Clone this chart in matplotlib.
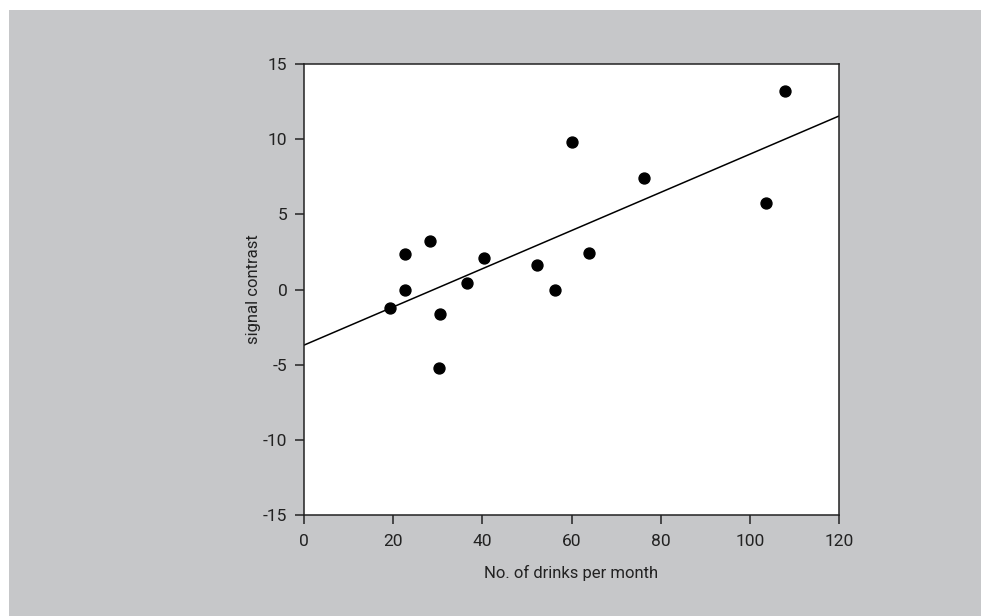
import matplotlib
matplotlib.use("Agg")
import matplotlib.pyplot as plt
from matplotlib.patches import Rectangle
import numpy as np

# Data
drinks = [19.3, 22.6, 22.6, 28.3, 30.5, 30.3, 36.6, 40.4, 52.3, 56.3, 60.1, 63.9, 76.3, 103.6, 107.9]
contrast = [-1.2, -0.05, 2.35, 3.2, -1.6, -5.2, 0.45, 2.1, 1.6, -0.05, 9.8, 2.4, 7.45, 5.75, 13.2]
fit_intercept = -3.7
fit_slope = 0.127

xticks = [0, 20, 40, 60, 80, 100, 120]
yticks = [-15, -10, -5, 0, 5, 10, 15]

plt.rcParams['font.family'] = ['Roboto', 'DejaVu Sans']
plt.rcParams['axes.unicode_minus'] = False

fig = plt.figure(figsize=(9.81, 6.16), dpi=100)
fig.patch.set_facecolor('white')
# gray panel behind the plot (white strip along top and left edge)
fig.patches.append(Rectangle((9 / 981, 0), 1, 1 - 10 / 616, transform=fig.transFigure,
                             facecolor='#c6c7c9', edgecolor='none', zorder=-10))

ax = fig.add_axes([304 / 981, 1 - 515 / 616, 535 / 981, 451 / 616])
ax.set_facecolor('white')

ax.scatter(drinks, contrast, s=62, color='black', zorder=3)
xs = np.array([0, 120])
ax.plot(xs, fit_intercept + fit_slope * xs, color='black', lw=1.1)

ax.set_xlim(0, 120)
ax.set_ylim(-15, 15)
ax.set_xticks(xticks)
ax.set_yticks(yticks)
ax.tick_params(direction='out', length=6.5, width=1.1, labelsize=12.5, colors='#222222')
ax.tick_params(axis='x', pad=7)
ax.tick_params(axis='y', pad=5.5)
for s in ax.spines.values():
    s.set_linewidth(1.1)
    s.set_color('#222222')

ax.set_xlabel('No. of drinks per month', fontsize=12, color='#222222', labelpad=12)
ax.set_ylabel('signal contrast', fontsize=12, color='#222222', labelpad=1.5)

fig.savefig('out.png', dpi=100)
